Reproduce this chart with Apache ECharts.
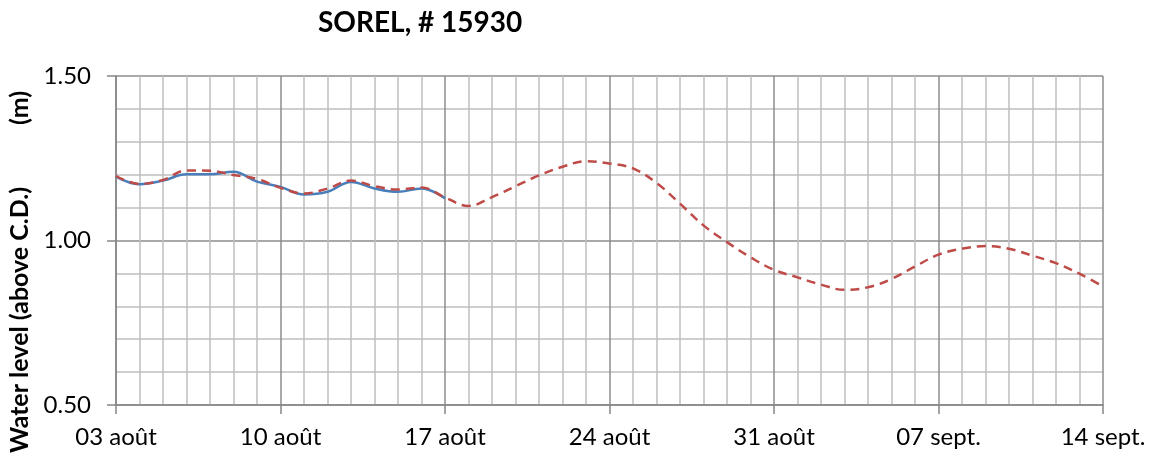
<!DOCTYPE html>
<html>
<head>
<meta charset="utf-8">
<script src="https://cdn.jsdelivr.net/npm/echarts@6/dist/echarts.min.js"></script>
<style>
	html, body { margin: 0; padding: 0; background: #fff; }
	#chart { width: 1149px; height: 461px; }
</style>
</head>
<body>
<div id="chart"></div>
<script>
// jours depuis le 03 août
var tickLabels = ['03 août', '10 août', '17 août', '24 août', '31 août', '07 sept.', '14 sept.'];

// niveau prédit (tiretés rouges), un point par jour, jours 0..42
var predicted = [
	1.196, 1.172, 1.184, 1.213, 1.212, 1.199, 1.187, 1.160, 1.143, 1.158,
	1.182, 1.165, 1.155, 1.161, 1.131, 1.105, 1.132, 1.165, 1.198, 1.224,
	1.241, 1.234, 1.219, 1.175, 1.112, 1.046, 0.995, 0.949, 0.911, 0.888,
	0.866, 0.850, 0.858, 0.883, 0.921, 0.957, 0.975, 0.983, 0.975, 0.954,
	0.931, 0.899, 0.860
];

// niveau observé (bleu), jours 0..14
var observed = [
	1.194, 1.171, 1.182, 1.201, 1.201, 1.209, 1.179, 1.163, 1.140, 1.148,
	1.178, 1.158, 1.148, 1.158, 1.128
];

function toPairs(arr) {
	return arr.map(function (v, i) { return [i, v]; });
}

var FONT = 'Lato';

var myChart = echarts.init(document.getElementById('chart'));

var option = {
	animation: false,
	backgroundColor: '#fff',
	title: {
		text: 'SOREL, # 15930',
		left: 313,
		top: 4,
		textStyle: {
			fontFamily: FONT,
			fontSize: 28,
			fontWeight: 'bold',
			color: '#000'
		}
	},
	grid: { left: 116, right: 46, top: 76, bottom: 56 },
	xAxis: {
		type: 'value',
		min: 0,
		max: 42,
		interval: 7,
		axisLine: { show: true, lineStyle: { color: '#868686', width: 1.5 } },
		axisTick: { show: true, length: 9, lineStyle: { color: '#868686', width: 1.5 } },
		axisLabel: {
			margin: 20,
			fontFamily: FONT,
			fontSize: 24,
			color: '#000',
			formatter: function (v) { return tickLabels[Math.round(v / 7)]; }
		},
		splitLine: { show: true, lineStyle: { color: '#8c8c8c', width: 1.5 } },
		minorTick: { show: false, splitNumber: 7 },
		minorSplitLine: { show: true, lineStyle: { color: '#bfbfbf', width: 1.5 } }
	},
	yAxis: {
		type: 'value',
		min: 0.5,
		max: 1.5,
		interval: 0.5,
		axisLine: { show: true, lineStyle: { color: '#868686', width: 1.5 } },
		axisTick: { show: true, length: 9, lineStyle: { color: '#868686', width: 1.5 } },
		axisLabel: {
			margin: 25,
			fontFamily: FONT,
			fontSize: 24,
			color: '#000',
			formatter: function (v) { return v.toFixed(2); }
		},
		splitLine: { show: true, lineStyle: { color: '#8c8c8c', width: 1.5 } },
		minorTick: { show: false, splitNumber: 5 },
		minorSplitLine: { show: true, lineStyle: { color: '#bfbfbf', width: 1.5 } }
	},
	graphic: [
		{
			type: 'text',
			x: 20,
			y: 320,
			rotation: Math.PI / 2,
			style: {
				text: 'Water level (above C.D.)',
				fontFamily: FONT,
				fontSize: 25,
				fontWeight: 'bold',
				fill: '#000',
				textAlign: 'center',
				textVerticalAlign: 'middle'
			}
		},
		{
			type: 'text',
			x: 20,
			y: 108,
			rotation: Math.PI / 2,
			style: {
				text: '(m)',
				fontFamily: FONT,
				fontSize: 25,
				fontWeight: 'bold',
				fill: '#000',
				textAlign: 'center',
				textVerticalAlign: 'middle'
			}
		}
	],
	series: [
		{
			name: 'observé',
			type: 'line',
			data: toPairs(observed),
			smooth: 0.4,
			showSymbol: false,
			lineStyle: { color: '#4a7ebb', width: 2.5 }
		},
		{
			name: 'prédit',
			type: 'line',
			data: toPairs(predicted),
			smooth: 0.4,
			showSymbol: false,
			lineStyle: { color: '#be4b48', width: 2.5, type: [9, 6] }
		}
	]
};

myChart.setOption(option);
</script>
</body>
</html>
